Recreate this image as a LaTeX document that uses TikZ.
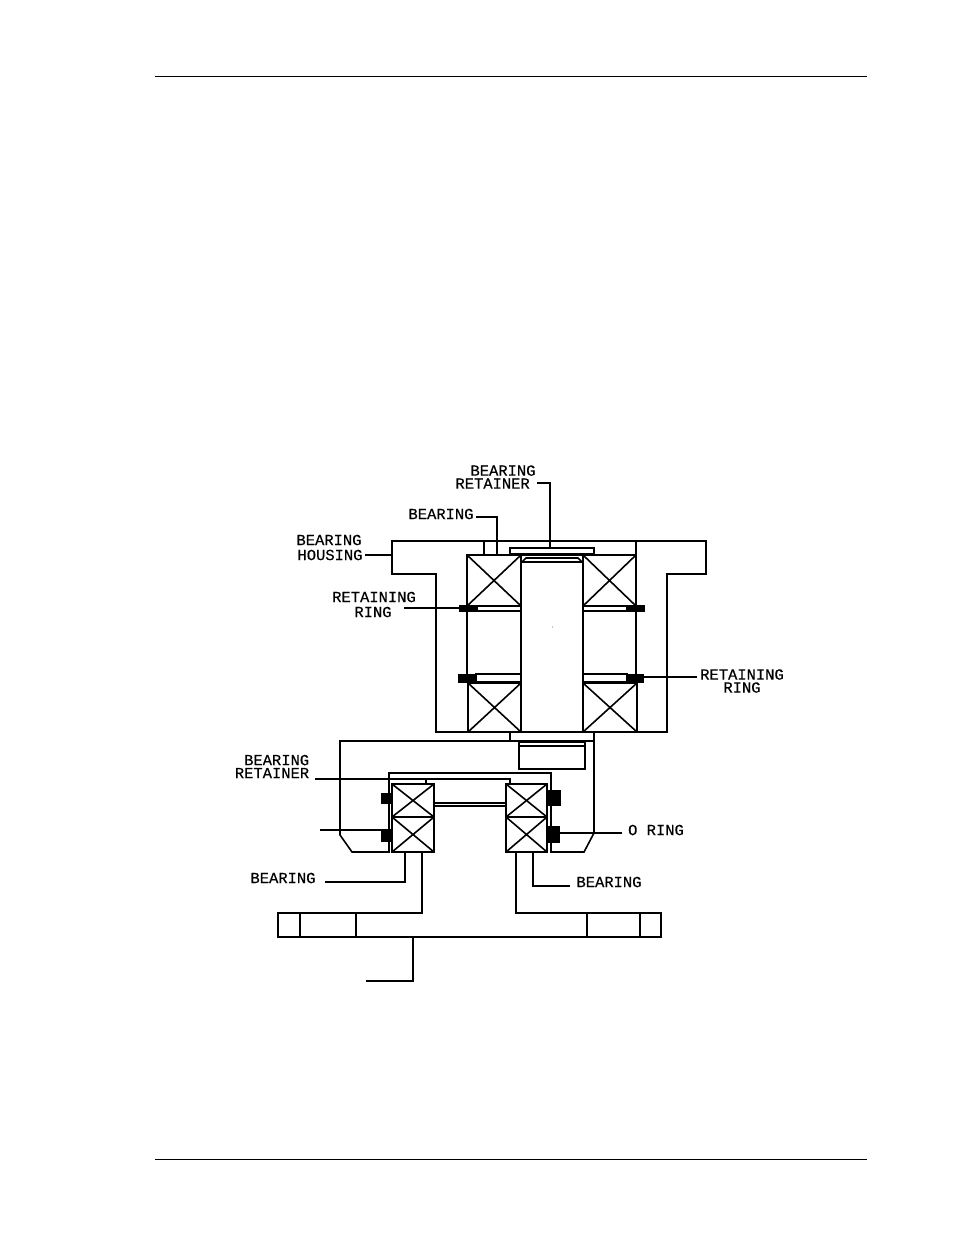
\documentclass[tikz,border=0pt]{standalone}
\usepackage{fontspec}
\setmainfont[FakeBold=0.35]{Liberation Mono}
\tikzset{
  part/.style={line width=1.2pt,line join=miter,draw=black},
  thin rule/.style={line width=0.75pt,draw=black},
  leader/.style={line width=1.2pt,draw=black},
  ringblack/.style={fill=black,draw=none},
  lab/.style={font=\fontsize{11.6pt}{9.75pt}\selectfont,inner sep=0pt,anchor=center,text=black},
}
\newcommand{\xbox}[4]{\draw[part] (#1,#2) rectangle (#3,#4) (#1,#2) -- (#3,#4) (#1,#4) -- (#3,#2);}
\begin{document}
\begin{tikzpicture}[x=0.75pt,y=-0.75pt]
\useasboundingbox (0,0) rectangle (954,1235);
% page rules
\draw[thin rule] (155,76) -- (867,76);
\draw[thin rule] (155,1159) -- (867,1159);
% upper housing
\draw[part] (392,541) -- (706,541) -- (706,574) -- (667,574) -- (667,732) -- (436,732) -- (436,574) -- (392,574) -- cycle;
\draw[part] (636,541) -- (636,555);
\draw[part] (484,541) -- (484,555);
\draw[part] (467,606) -- (467,683);
\draw[part] (636,606) -- (636,683);
% upper bearings
\xbox{467}{555}{521}{606}
\xbox{583}{555}{636}{606}
\xbox{468}{683}{521}{732}
\xbox{583}{683}{637}{732}
% shaft
\draw[part] (521,555) rectangle (583,732);
\draw[part] (521,562) -- (583,562) (522,562) -- (526,558) -- (578,558) -- (582,562);
% retainer plate
\draw[part] (510,548) rectangle (594,554);
\draw[line width=1.6pt] (510,548) -- (594,548);
\draw[line width=1.6pt] (510,554.5) -- (594,554.5);
% ring strips
\draw[part] (477,606) rectangle (521,611);
\draw[part] (583,606) rectangle (627,611);
\draw[part] (476,674) rectangle (521,682);
\draw[part] (583,674) rectangle (627,682);
\fill[ringblack] (459,605) rectangle (477,612);
\fill[ringblack] (627,605) rectangle (645,612);
\fill[ringblack] (458,674) rectangle (476,683);
\fill[ringblack] (627,674) rectangle (644,683);
% dot
\fill (552.5,627) circle (0.4);
% lower housing
\draw[part] (510,732) -- (510,741);
\draw[part] (594,732) -- (594,833) -- (584,852) -- (551,852) -- (551,773) -- (389,773) -- (389,852) -- (352,852) -- (340,835) -- (340,741) -- (594,741);
\draw[part] (519,742) rectangle (585,769);
\draw[line width=1.6pt] (519,746) -- (585,746);
% lower bearings
\xbox{392}{784}{434}{817}
\xbox{392}{817}{434}{852}
\xbox{506}{784}{547}{817}
\xbox{506}{817}{547}{852}
% spacer
\draw[part] (434,803) -- (506,803) (434,806) -- (506,806);
% retainer
\draw[part] (426,779) -- (426,784);
% o rings
\fill[ringblack] (381,793) rectangle (392,804);
\fill[ringblack] (381,829) rectangle (392,842);
\fill[ringblack] (548,790) rectangle (561,806);
\fill[ringblack] (548,826) rectangle (560,843);
% base plate
\draw[part] (422,852) -- (422,913) -- (278,913) -- (278,937) -- (661,937) -- (661,913) -- (516,913) -- (516,852);
\draw[part] (300,913) -- (300,937) (356,913) -- (356,937) (587,913) -- (587,937) (640,913) -- (640,937);
% labels
\node[lab,align=left] (l1) at (495.5,477) {\hspace*{11.25pt}BEARING\\RETAINER};
\node[lab] (l3) at (441,514) {BEARING};
\node[lab] (l4) at (329,540) {BEARING};
\node[lab] (l5) at (330,555) {HOUSING};
\node[lab] (l6) at (374,597) {RETAINING};
\node[lab] (l7) at (373,612) {RING};
\node[lab,align=center] (l8) at (742,681) {RETAINING\\RING};
\node[lab,align=right] (l10) at (272,766.5) {BEARING\\RETAINER};
\node[lab] (l12) at (656,830) {O RING};
\node[lab] (l13) at (283,878) {BEARING};
\node[lab] (l14) at (609,882) {BEARING};
% leaders
\draw[leader] (537,483) -- (550,483) -- (550,548);
\draw[leader] (476,517) -- (497,517) -- (497,555);
\draw[leader] (365,555) -- (392,555);
\draw[leader] (404,608) -- (459,608);
\draw[leader] (644,677) -- (697,677);
\draw[leader] (315,779) -- (510,779) -- (510,784);
\draw[leader] (320,830) -- (381,830);
\draw[leader] (560,833) -- (622,833);
\draw[leader] (325,882) -- (405,882) -- (405,852);
\draw[leader] (533,852) -- (533,886) -- (570,886);
\draw[leader] (413,937) -- (413,981) -- (366,981);
\end{tikzpicture}
\end{document}
